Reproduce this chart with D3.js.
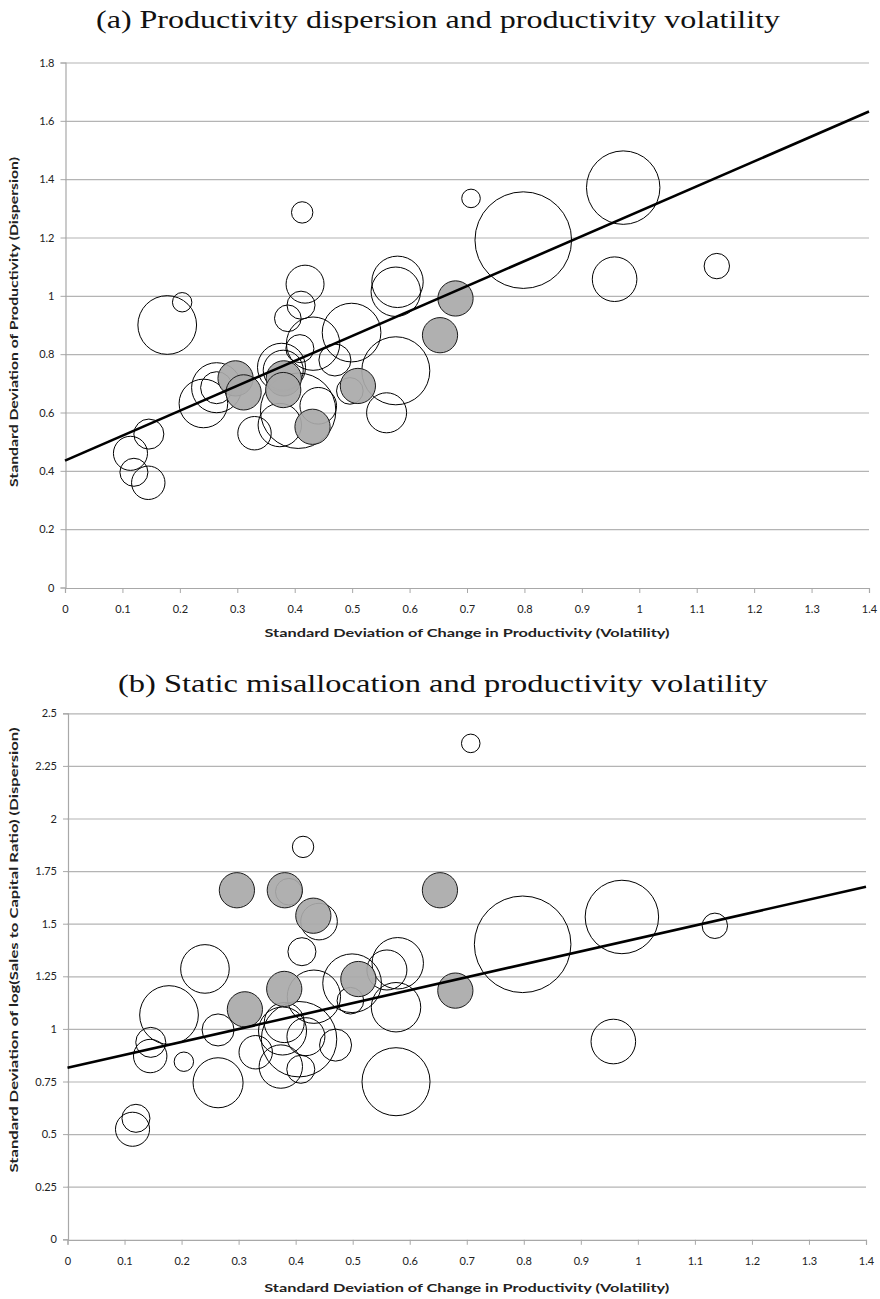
<!DOCTYPE html>
<html><head><meta charset="utf-8">
<script src="https://cdn.jsdelivr.net/npm/d3@7"></script>
<style>body{margin:0;background:#fff}svg{display:block}</style>
</head><body>
<svg id="c" width="880" height="1299"></svg>
<script>
// ---- data ----
const volatility = [0.413,0.707,0.178,0.204,0.418,0.411,0.388,0.579,0.576,0.432,0.499,0.409,0.470,0.576,0.377,0.380,0.264,0.241,0.264,0.406,0.441,0.374,0.330,0.496,0.560,0.146,0.114,0.120,0.145,0.798,0.972,0.957,1.135];
const dispersionA = [1.286,1.334,0.900,0.978,1.040,0.968,0.923,1.048,1.014,0.836,0.874,0.819,0.780,0.743,0.755,0.745,0.685,0.631,0.685,0.606,0.623,0.557,0.529,0.674,0.599,0.526,0.460,0.395,0.359,1.191,1.371,1.057,1.102];
const dispersionB = [1.865,2.357,1.066,0.844,0.963,1.367,1.652,1.312,1.103,1.153,1.217,0.808,0.923,0.749,0.990,1.030,0.744,1.285,0.995,0.951,1.510,0.821,0.889,1.134,1.280,0.936,0.523,0.575,0.871,1.402,1.532,0.940,1.490];
const bubbleSize = [11.4,8.6,86,9.4,36,19.6,17.7,66,61,71,86,19.6,25.6,115.6,57.6,40,62.5,59,25.6,142,33.5,47,27.9,17.7,40,22.5,29,19.6,27.9,233,134.7,49.7,16.1];
const greyVolatility = [0.680,0.653,0.381,0.380,0.297,0.311,0.431,0.510];
const greyDispersionA = [0.991,0.865,0.717,0.677,0.717,0.669,0.551,0.691];
const greyDispersionB = [1.182,1.659,1.659,1.190,1.659,1.093,1.538,1.237];
const greySize = [31,31,31,31,31,31,31,31];
const trendA = [0.435, 1.632];   // fitted value at x=0 and x=1.4
const trendB = [0.815, 1.676];
const xTicks = [0,0.1,0.2,0.3,0.4,0.5,0.6,0.7,0.8,0.9,1,1.1,1.2,1.3,1.4];
const yTicksA = [0,0.2,0.4,0.6,0.8,1,1.2,1.4,1.6,1.8];
const yTicksB = [0,0.25,0.5,0.75,1,1.25,1.5,1.75,2,2.25,2.5];
const titleA = "(a) Productivity dispersion and productivity volatility";
const titleB = "(b) Static misallocation and productivity volatility";
const xTitle = "Standard Deviation of Change in Productivity (Volatility)";
const yTitleA = "Standard Deviation of Productivity (Dispersion)";
const yTitleB = "Standard Deviation of log(Sales to Capital Ratio) (Dispersion)";

const svg = d3.select("#c");
const rScale = d3.scaleSqrt().domain([0,233]).range([0,48.3]);

function fmt(v){ return String(+v.toFixed(2)); }

function panel(o){
  const x = d3.scaleLinear().domain([0,1.4]).range([o.left,o.right]);
  const y = d3.scaleLinear().domain([0,o.ymax]).range([o.bottom,o.top]);
  const g = svg.append("g");
  // title
  g.append("text").attr("x",o.titleX).attr("y",o.titleY).attr("text-anchor","middle")
    .attr("font-family","'Liberation Serif','DejaVu Serif',serif").attr("font-size",25)
    .attr("textLength",o.titleLen).attr("lengthAdjust","spacingAndGlyphs")
    .attr("fill","#111").text(o.title);
  // gridlines
  g.append("g").selectAll("line").data(o.yTicks.filter(d=>d>0)).join("line")
    .attr("x1",o.left).attr("x2",o.right).attr("y1",d=>y(d)+0.5).attr("y2",d=>y(d)+0.5)
    .attr("stroke","#b4b4b4").attr("stroke-width",1.2);
  // axes
  const ya = g.append("g").attr("transform",`translate(${o.left+0.5},0)`)
    .call(d3.axisLeft(y).tickValues(o.yTicks).tickSize(5).tickPadding(6).tickFormat(fmt));
  const xa = g.append("g").attr("transform",`translate(0,${o.bottom+0.5})`)
    .call(d3.axisBottom(x).tickValues(xTicks).tickSize(5).tickPadding(12).tickFormat(fmt));
  [ya,xa].forEach(a=>{
    a.select(".domain").attr("stroke","#a8a8a8").attr("stroke-width",1.2);
    a.selectAll(".tick line").attr("stroke","#a8a8a8");
    a.selectAll(".tick text").attr("font-family","Lato,'Open Sans',sans-serif").attr("font-size",11).attr("fill","#222");
  });
  // axis titles
  g.append("text").attr("x",(o.left+o.right)/2).attr("y",o.xTitleY).attr("text-anchor","middle")
    .attr("font-family","Lato,'Open Sans',sans-serif").attr("font-weight","bold").attr("font-size",12)
    .attr("textLength",o.xTitleLen).attr("lengthAdjust","spacingAndGlyphs")
    .attr("fill","#222").text(xTitle);
  g.append("text").attr("transform",`translate(${o.yTitleX},${o.yTitleCY}) rotate(-90)`).attr("text-anchor","middle")
    .attr("font-family","Lato,'Open Sans',sans-serif").attr("font-weight","bold").attr("font-size",12)
    .attr("textLength",o.yTitleLen).attr("lengthAdjust","spacingAndGlyphs")
    .attr("fill","#222").text(o.yTitle);
  // open bubbles
  const open = volatility.map((v,i)=>({x:v,y:o.yOpen[i],s:bubbleSize[i]}));
  g.append("g").selectAll("circle").data(open).join("circle")
    .attr("cx",d=>x(d.x)).attr("cy",d=>y(d.y)).attr("r",d=>rScale(d.s))
    .attr("fill","none").attr("stroke","#000").attr("stroke-width",1);
  // grey bubbles
  const grey = greyVolatility.map((v,i)=>({x:v,y:o.yGrey[i],s:greySize[i]}));
  g.append("g").selectAll("circle").data(grey).join("circle")
    .attr("cx",d=>x(d.x)).attr("cy",d=>y(d.y)).attr("r",d=>rScale(d.s))
    .attr("fill","#a9a9a9").attr("fill-opacity",0.92).attr("stroke","#1a1a1a").attr("stroke-width",1);
  // trend line
  g.append("line").attr("x1",x(0)).attr("y1",y(o.trend[0])).attr("x2",x(1.4)).attr("y2",y(o.trend[1]))
    .attr("stroke","#000").attr("stroke-width",2.6);
}

panel({left:65,right:869,top:62.5,bottom:587.5,ymax:1.8,yTicks:yTicksA,
  title:titleA,titleX:438,titleY:28,titleLen:684,
  xTitleY:637,xTitleLen:405,yTitleX:18,yTitleCY:322,yTitleLen:330,yTitle:yTitleA,
  yOpen:dispersionA,yGrey:greyDispersionA,trend:trendA});
panel({left:67.5,right:866,top:713.3,bottom:1239.3,ymax:2.5,yTicks:yTicksB,
  title:titleB,titleX:443,titleY:692,titleLen:650,
  xTitleY:1292,xTitleLen:405,yTitleX:18,yTitleCY:950,yTitleLen:445,yTitle:yTitleB,
  yOpen:dispersionB,yGrey:greyDispersionB,trend:trendB});
</script>
</body></html>
